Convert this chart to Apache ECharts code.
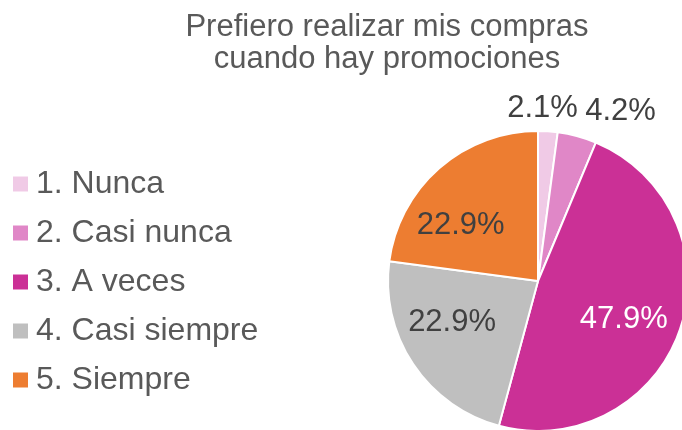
<!DOCTYPE html>
<html>
<head>
<meta charset="utf-8">
<script src="https://cdn.jsdelivr.net/npm/echarts@6/dist/echarts.min.js"></script>
<style>
  html, body { margin: 0; padding: 0; background: #fff; }
  #chart { width: 682px; height: 430px; }
</style>
</head>
<body>
<div id="chart"></div>
<script>
// respuestas de la encuesta
var categories = ['1. Nunca', '2. Casi nunca', '3. A veces', '4. Casi siempre', '5. Siempre']
var percents = [2.1, 4.2, 47.9, 22.9, 22.9]
var colors = ['#F0CAE6', '#E087C7', '#CB3096', '#BFBFBF', '#ED7D31']

// small nudges so labels sit where the original put them
var labelNudge = [
  { dx: -12, dy: 1, align: 'center' },
  { dx: -4, dy: 1 },
  { dx: 12, dy: 13 },
  { dx: -21, dy: -2 },
  { dx: -26, dy: 3 }
]

var chart = echarts.init(document.getElementById('chart'))

var pieData = categories.map(function (name, i) {
  var item = {
    name: name,
    value: percents[i],
    itemStyle: { color: colors[i] }
  }
  if (i < 2) {
    item.label = { position: 'outside', color: '#404040' }
    item.labelLine = { show: false, length: i === 0 ? 24 : 27, length2: 0 }
  }
  if (i === 2) {
    item.label = { color: '#ffffff' }
  }
  return item
})

chart.setOption({
  animation: false,
  textStyle: { fontFamily: 'Liberation Sans, Arial, sans-serif' },
  title: {
    text: 'Prefiero realizar mis compras\ncuando hay promociones',
    left: 382,
    textAlign: 'center',
    top: 6,
    textStyle: {
      fontSize: 31,
      fontWeight: 'normal',
      color: '#595959',
      lineHeight: 32
    }
  },
  legend: {
    orient: 'vertical',
    left: 11,
    top: 164,
    padding: 0,
    icon: 'rect',
    itemWidth: 17,
    itemHeight: 17,
    itemGap: 9,
    data: categories,
    textStyle: {
      fontSize: 32,
      color: '#595959',
      lineHeight: 34,
      padding: [0, 0, 6, 2]
    }
  },
  series: [{
    type: 'pie',
    center: [538, 281],
    radius: [0, 150],
    startAngle: 90,
    clockwise: true,
    avoidLabelOverlap: false,
    itemStyle: { borderColor: '#ffffff', borderWidth: 2 },
    label: {
      show: true,
      position: 'inside',
      fontSize: 31,
      color: '#404040',
      formatter: function (p) { return p.value.toFixed(1) + '%' }
    },
    labelLine: { show: false },
    labelLayout: function (p) {
      return labelNudge[p.dataIndex]
    },
    data: pieData
  }]
})
</script>
</body>
</html>
